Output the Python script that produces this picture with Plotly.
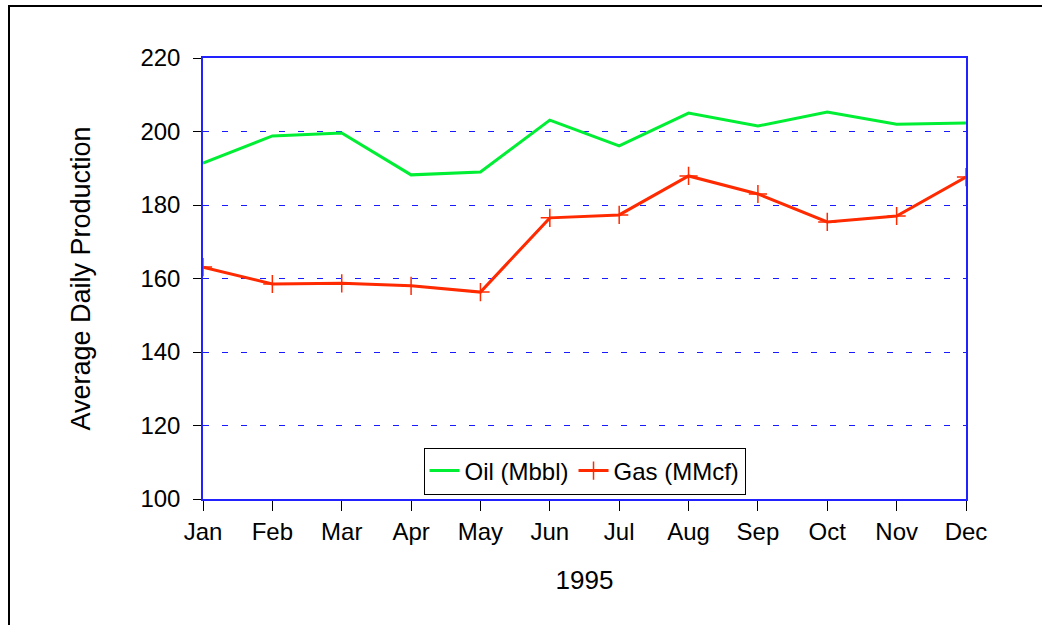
import plotly.graph_objects as go

months = ["Jan", "Feb", "Mar", "Apr", "May", "Jun", "Jul", "Aug", "Sep", "Oct", "Nov", "Dec"]
oil = [191.4, 198.8, 199.6, 188.2, 189.0, 203.1, 196.1, 205.0, 201.5, 205.3, 202.0, 202.3]
gas = [163.1, 158.5, 158.7, 158.0, 156.3, 176.5, 177.3, 187.9, 183.0, 175.4, 177.0, 187.6]
y_ticks = [100, 120, 140, 160, 180, 200, 220]

FONT = "Liberation Sans, Arial, sans-serif"

fig = go.Figure()
fig.add_trace(go.Scatter(x=months, y=oil, name="Oil (Mbbl)", mode="lines",
                         line=dict(color="#00ee33", width=3)))
fig.add_trace(go.Scatter(x=months, y=gas, name="Gas (MMcf)", mode="lines+markers",
                         line=dict(color="#ff2a00", width=3),
                         marker=dict(symbol="cross-thin", size=13, color="#ff2a00",
                                     line=dict(color="#ff2a00", width=1.5))))

fig.update_layout(
    width=1042, height=625,
    margin=dict(l=203, r=76, t=58, b=126),
    paper_bgcolor="white", plot_bgcolor="white",
    font=dict(family=FONT, size=24, color="black"),
    showlegend=True,
    legend=dict(orientation="h", x=0.5, xanchor="center", y=(499 - 471) / 441, yanchor="middle",
                bordercolor="black", borderwidth=1, bgcolor="white",
                font=dict(size=24), itemwidth=30, tracegroupgap=0),
    xaxis=dict(type="category", range=[0, 11], showgrid=False,
               showline=True, linecolor="#2222ff", linewidth=1.5, mirror=True,
               ticks="outside", ticklen=10, tickcolor="black", tickwidth=1,
               tickfont=dict(size=24),
               title=dict(text="1995", font=dict(size=26), standoff=27)),
    yaxis=dict(range=[100, 220], tickvals=y_ticks,
               showgrid=True, gridcolor="#1a1aff", griddash="6px,13px", gridwidth=1.3,
               showline=True, linecolor="#2222ff", linewidth=1.5, mirror=True,
               ticks="outside", ticklen=8, tickcolor="black", tickwidth=1,
               tickfont=dict(size=24), zeroline=False, ticklabelstandoff=8,
               title=dict(text="Average Daily Production", font=dict(size=27), standoff=42)),
    shapes=[dict(type="rect", xref="paper", yref="paper",
                 x0=(9 - 203) / 763, x1=1.5, y0=-0.5, y1=(499 - 6) / 441,
                 line=dict(color="black", width=2), fillcolor="rgba(0,0,0,0)", layer="below")],
)

fig.write_html("out.html", config={"displayModeBar": False},
               post_script="document.body.style.margin='0';document.body.style.overflow='hidden';")
